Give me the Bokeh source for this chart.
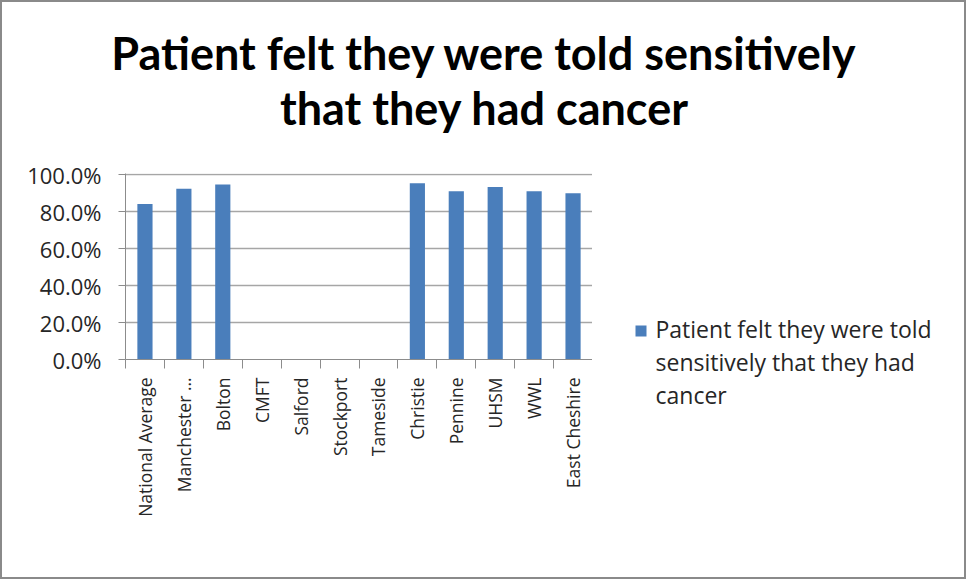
import numpy as np
from bokeh.plotting import figure
from bokeh.layouts import column, row
from bokeh.models import Range1d, FixedTicker, NumeralTickFormatter
from bokeh.core.properties import value
from bokeh.embed import file_html
from bokeh.resources import INLINE

# Survey results by trust
categories = ["National Average", "Manchester \u2026", "Bolton", "CMFT", "Salford",
              "Stockport", "Tameside", "Christie", "Pennine", "UHSM", "WWL",
              "East Cheshire"]
values = [0.841, 0.923, 0.946, np.nan, np.nan, np.nan, np.nan,
          0.953, 0.910, 0.932, 0.910, 0.898]
y_ticks = [0.0, 0.2, 0.4, 0.6, 0.8, 1.0]
series_name = "Patient felt they were told sensitively that they had cancer"
title_lines = ["Patient felt they were told sensitively", "that they had cancer"]
legend_lines = ["Patient felt they were told", "sensitively that they had", "cancer"]

BAR = "#4a7ebb"
TITLE_FONT = "Lato"
FONT = "Open Sans"
TXT = "#262626"

# page geometry (pixels); a 2px border surrounds the content box
W, H, B = 966, 579, 2
X0, Y0, X1, Y1 = B, B, W - B, H - B
TITLE_BOTTOM = 152
FL, FR, FT, FB = 125, 592, 174, 359     # plot frame edges on the page


def blank_canvas(x0, y0, x1, y1):
    """A figure without axes whose data units are page pixels (y downward)."""
    f = figure(width=x1 - x0, height=y1 - y0, output_backend="svg",
               toolbar_location=None, title=None,
               x_range=Range1d(x0, x1), y_range=Range1d(y1, y0),
               x_axis_type=None, y_axis_type=None, min_border=0,
               background_fill_color="white", border_fill_color="white")
    f.outline_line_color = None
    f.grid.visible = False
    return f


# --- title strip
t = blank_canvas(X0, Y0, X1, TITLE_BOTTOM)
t.text(x=[484, 484], y=[52, 107], text=title_lines, text_align="center",
       text_baseline="alphabetic", text_font=value(TITLE_FONT),
       text_font_style="bold", text_font_size="45px", text_color="black")

# --- bar chart
frame_h = FB - (FT - 1)
p = figure(width=FR - X0, height=Y1 - TITLE_BOTTOM, output_backend="svg",
           toolbar_location=None,
           x_range=Range1d(0, len(categories)),
           y_range=Range1d(0, frame_h / (frame_h - 1)),
           min_border_left=FL - X0, min_border_right=0,
           min_border_top=(FT - 1) - TITLE_BOTTOM, min_border_bottom=Y1 - FB,
           background_fill_color="white", border_fill_color="white")
p.outline_line_color = None

xs = [i + 0.5 for i in range(len(categories))]
p.vbar(x=xs, top=values, width=0.39, color=BAR, line_color=None)

p.yaxis.ticker = FixedTicker(ticks=y_ticks)
p.yaxis.formatter = NumeralTickFormatter(format="0.0%")
p.yaxis.major_label_text_font = FONT
p.yaxis.major_label_text_font_size = "22px"
p.yaxis.major_label_text_color = TXT
p.yaxis.major_label_standoff = 17
p.yaxis.axis_line_color = "#8c8c8c"
p.yaxis.major_tick_line_color = "#8c8c8c"
p.yaxis.major_tick_out = 7
p.yaxis.major_tick_in = 0
p.yaxis.minor_tick_line_color = None

# labels at bar centres, ticks on category boundaries
p.xaxis.ticker = FixedTicker(ticks=xs, minor_ticks=list(range(len(categories) + 1)))
p.xaxis.major_label_overrides = {x: c for x, c in zip(xs, categories)}
p.xaxis.major_label_orientation = np.pi / 2
p.xaxis.major_label_text_font = FONT
p.xaxis.major_label_text_font_size = "17.5px"
p.xaxis.major_label_text_color = TXT
p.xaxis.major_label_standoff = 9
p.xaxis.major_tick_out = 0
p.xaxis.major_tick_in = 0
p.xaxis.minor_tick_out = 9
p.xaxis.minor_tick_in = 0
p.xaxis.axis_line_color = "#8c8c8c"
p.xaxis.minor_tick_line_color = "#8c8c8c"

p.xgrid.grid_line_color = None
p.ygrid.ticker = FixedTicker(ticks=y_ticks)
p.ygrid.grid_line_color = "#a6a6a6"
p.ygrid.grid_line_width = 1.5

# --- legend strip
lg = blank_canvas(FR, TITLE_BOTTOM, X1, Y1)
lg.rect(x=[640.5], y=[330.5], width=11, height=11, color=BAR, line_color=None)
lg.text(x=[655] * 3, y=[328, 361, 394], text=legend_lines, text_align="left",
        text_baseline="alphabetic", text_font=value(FONT),
        text_font_size="23px", text_color=TXT)

page = column(column(t), row(p, column(lg), spacing=0), spacing=0,
              styles={"border": f"{B}px solid #8a8a8a"})

open("out.html", "w").write(file_html(page, INLINE, title=series_name))
